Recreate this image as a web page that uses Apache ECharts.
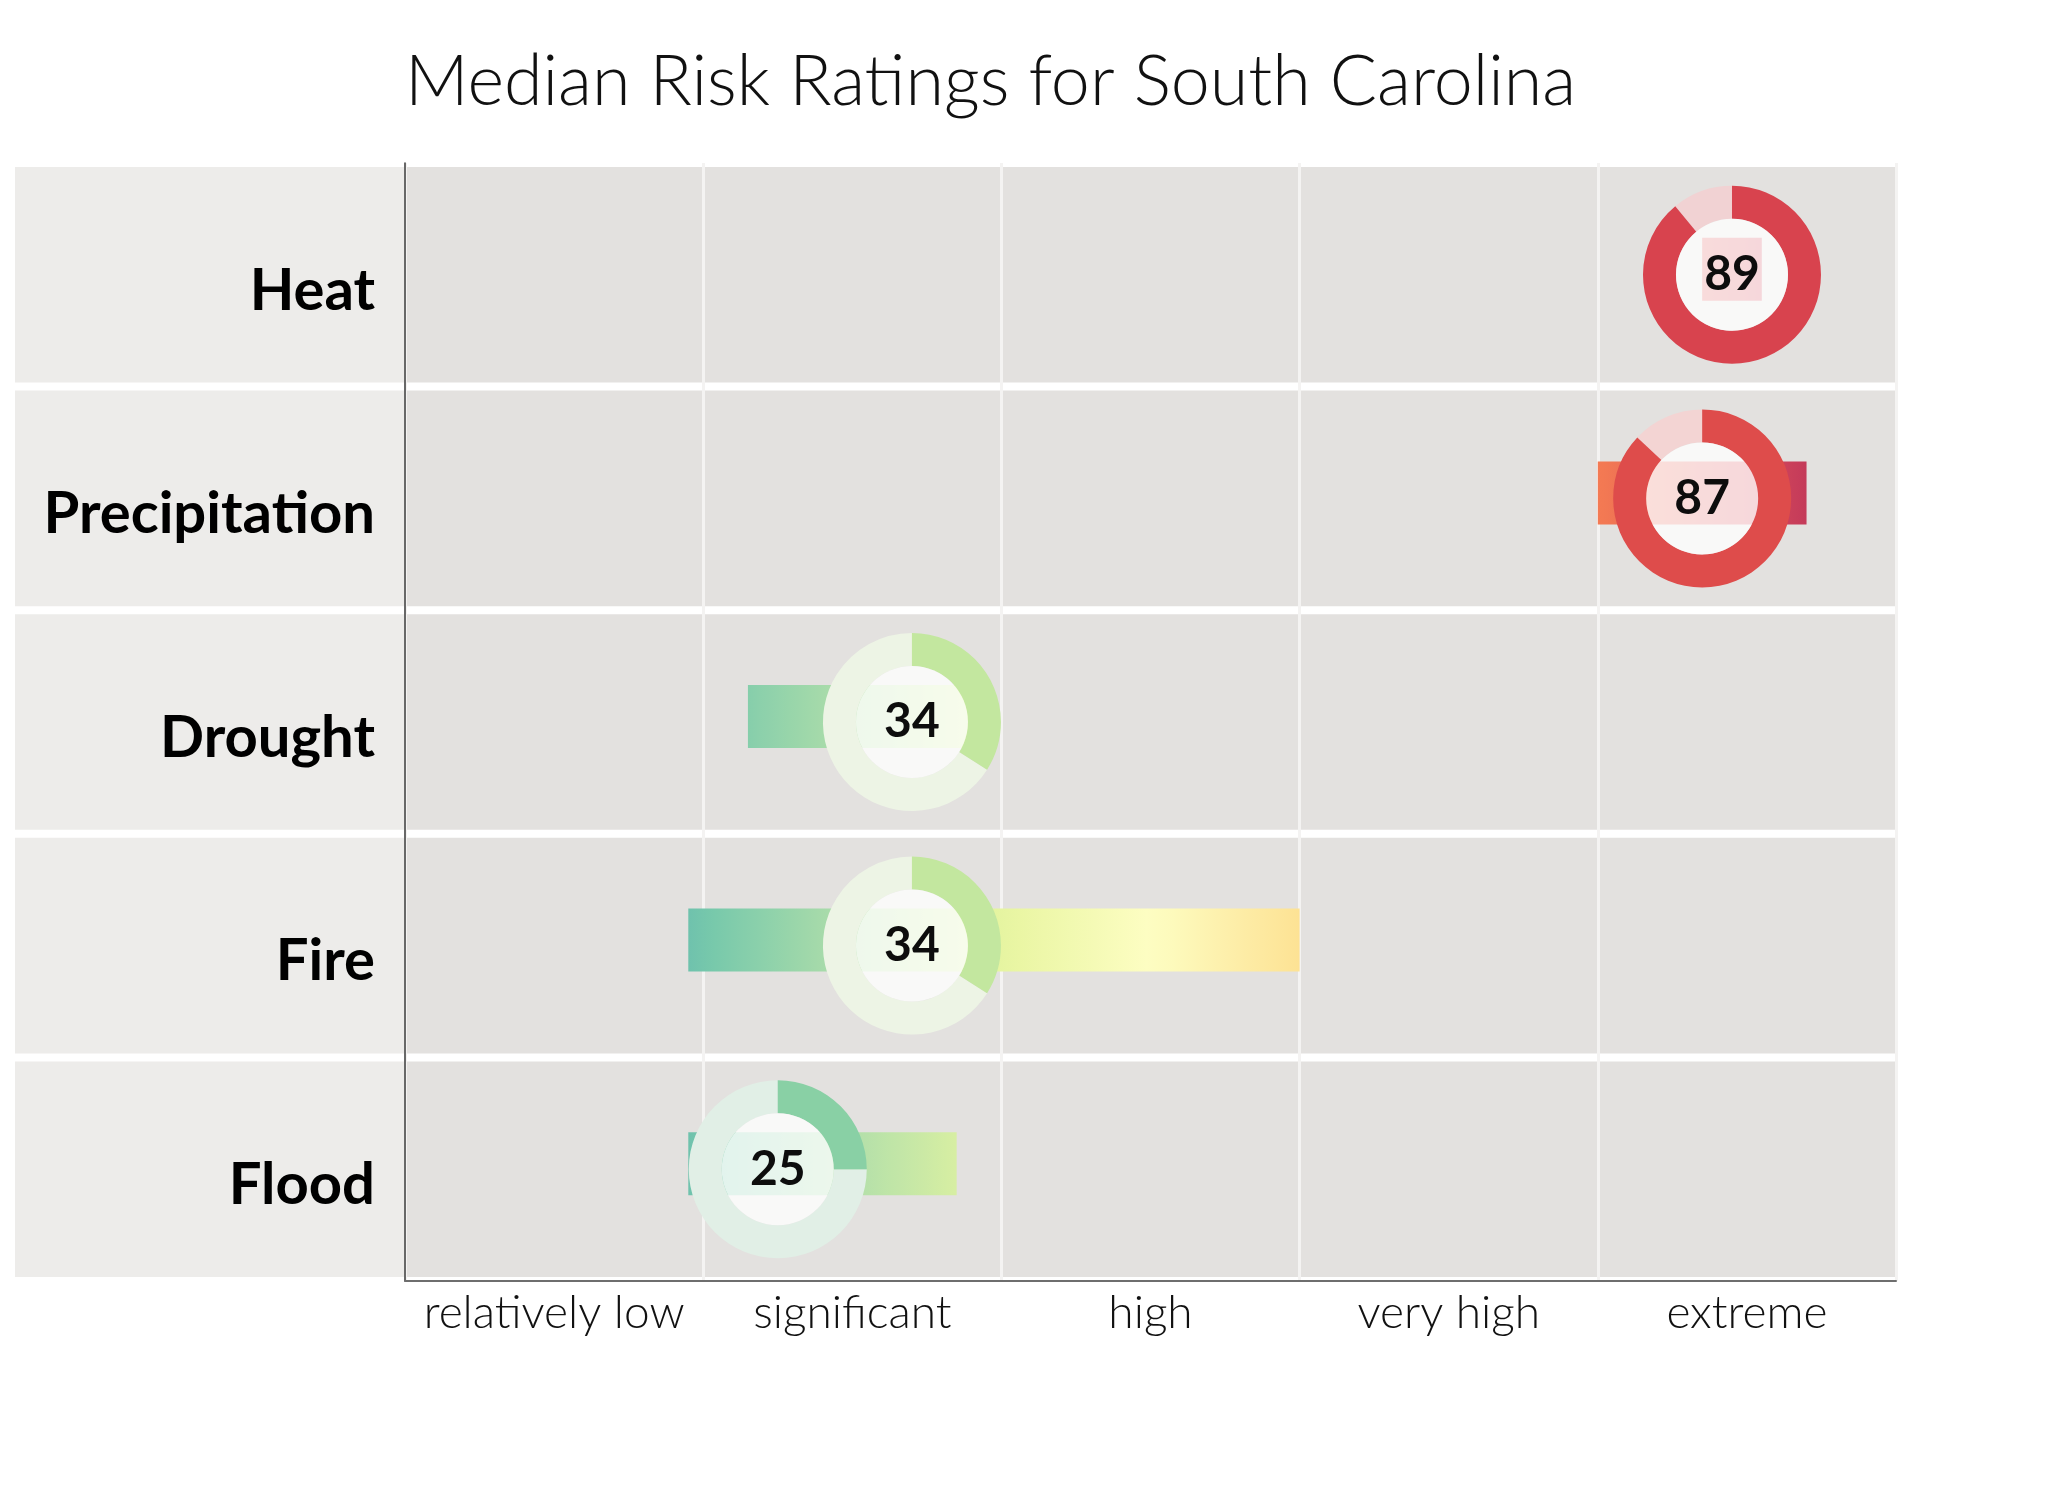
<!DOCTYPE html>
<html>
<head>
<meta charset="utf-8">
<script src="https://cdn.jsdelivr.net/npm/echarts@6/dist/echarts.min.js"></script>
<style>
html,body{margin:0;padding:0;background:#ffffff;}
#chart{width:2047px;height:1489px;}
</style>
</head>
<body>
<div id="chart"></div>
<script>
// ---- data ----
const categories = ['Heat', 'Precipitation', 'Drought', 'Fire', 'Flood'];
const medianRatings = [89, 87, 34, 34, 25];
const rangeLow = [87, 80, 23, 19, 19];
const rangeHigh = [91, 94, 39, 60, 37];
const riskLevels = ['relatively low', 'significant', 'high', 'very high', 'extreme'];
const axisMin = 0;
const axisMax = 100;
const levelStep = 20;

// ---- colour scale (Spectral, reversed) ----
const SPECTRAL_R = ['#5e4fa2','#3288bd','#66c2a5','#abdda4','#e6f598','#ffffbf','#fee08b','#fdae61','#f46d43','#d53e4f','#9e0142'];
function hexToRgb(h){ h=h.replace('#',''); return [parseInt(h.substr(0,2),16),parseInt(h.substr(2,2),16),parseInt(h.substr(4,2),16)]; }
const CMAP = SPECTRAL_R.map(hexToRgb);
function cmap(t){
  t = Math.max(0, Math.min(1, t));
  const p = t*(CMAP.length-1); const i = Math.min(Math.floor(p), CMAP.length-2); const f = p-i;
  return [0,1,2].map(k => CMAP[i][k] + (CMAP[i+1][k]-CMAP[i][k])*f);
}
function mix(c, base, t){ return [0,1,2].map(k => c[k]*t + base[k]*(1-t)); }
function rgbStr(c){ return 'rgb(' + c.map(v=>Math.round(v)).join(',') + ')'; }

const RING_OUT = 89, RING_IN = 56, BAR_H = 63, BAR_SHIFT = -5.5;

function renderRow(params, api){
  const i = params.dataIndex;
  const cs = params.coordSys;
  const cy = api.coord([axisMin, i])[1];
  const band = api.size([0, 1])[1];
  const gap = 8;
  const top = cy - band/2 + gap/2, h = band - gap;
  return {type:'group', children:[
    {type:'rect', shape:{x: cs.x - 390, y: top, width: 390, height: h}, style:{fill:'#EDECEA'}},
    {type:'rect', shape:{x: cs.x, y: top, width: cs.width, height: h}, style:{fill:'#E3E1DF'}}
  ]};
}

function renderRisk(params, api){
  const i = params.dataIndex;
  const med = api.value(0), lo = api.value(2), hi = api.value(3);
  const c = api.coord([med, i]);
  const l = api.coord([lo, i]);
  const r = api.coord([hi, i]);
  const cx = c[0], cy = c[1];
  const stops = [];
  const N = 24;
  for (let k = 0; k <= N; k++){
    const v = lo + (hi - lo) * k / N;
    stops.push({offset: k / N, color: rgbStr(mix(cmap(v / 100), [240,242,225], 0.9))});
  }
  const col = cmap(med / 100);
  const light = mix(col, [248,248,247], 0.21);
  const a0 = -Math.PI/2, a1 = a0 + 2*Math.PI*med/100;
  return {type:'group', children:[
    {type:'rect', shape:{x: l[0], y: cy + BAR_SHIFT - BAR_H/2, width: r[0]-l[0], height: BAR_H},
      style:{fill: new echarts.graphic.LinearGradient(0,0,1,0,stops)}},
    {type:'sector', shape:{cx:cx, cy:cy, r0:RING_IN, r:RING_OUT, startAngle:a1, endAngle:a0 + 2*Math.PI, clockwise:true},
      style:{fill: rgbStr(light)}},
    {type:'sector', shape:{cx:cx, cy:cy, r0:RING_IN, r:RING_OUT, startAngle:a0, endAngle:a1, clockwise:true},
      style:{fill: rgbStr(col)}},
    {type:'circle', shape:{cx:cx, cy:cy, r:RING_IN}, style:{fill:'rgba(255,255,255,0.78)'}},
    {type:'text', style:{text: String(med), x: cx, y: cy, align:'center', verticalAlign:'middle',
      fontSize: 48, fontWeight: 'bold', fontFamily: 'Lato', fill: '#0d0d0d'}}
  ]};
}

const seriesData = categories.map((c, i) => [medianRatings[i], c, rangeLow[i], rangeHigh[i]]);

const chart = echarts.init(document.getElementById('chart'), null, {renderer:'canvas'});
chart.setOption({
  animation: false,
  backgroundColor: '#ffffff',
  title: {
    text: 'Median Risk Ratings for South Carolina',
    left: 400, top: 42,
    textStyle: {fontFamily: 'Lato', fontWeight: 300, fontSize: 70, color: '#111'}
  },
  grid: {left: 405, right: 151, top: 163, bottom: 208, containLabel: false},
  xAxis: [
    {type: 'value', min: axisMin, max: axisMax, interval: levelStep, z: 1,
      axisLine: {show: false}, axisTick: {show: false}, axisLabel: {show: false},
      splitLine: {show: true, lineStyle: {color: '#F4F3F2', width: 3}}},
    {type: 'category', data: riskLevels, position: 'bottom', z: 3,
      axisLine: {show: true, lineStyle: {color: '#6e6e6e', width: 2}},
      axisTick: {show: false}, splitLine: {show: false},
      axisLabel: {interval: 0, hideOverlap: false, fontFamily: 'Lato', fontWeight: 300, fontSize: 46, color: '#111', margin: 9}}
  ],
  yAxis: {type: 'category', data: categories, inverse: true, z: 3,
    axisLine: {show: true, lineStyle: {color: '#3a3a3a', width: 1.5}},
    axisTick: {show: false}, splitLine: {show: false},
    axisLabel: {interval: 0, margin: 30, formatter: '{lab|{value}}',
      rich: {lab: {fontFamily: 'Lato', fontWeight: 'bold', fontSize: 58, color: '#000', padding: [32, 0, 0, 0]}}}},
  series: [
    {type: 'custom', z: 0, clip: false, silent: true, renderItem: renderRow,
      encode: {x: 0, y: 1}, data: seriesData},
    {type: 'custom', z: 2, clip: false, renderItem: renderRisk,
      encode: {x: 0, y: 1}, data: seriesData}
  ]
});
</script>
</body>
</html>
